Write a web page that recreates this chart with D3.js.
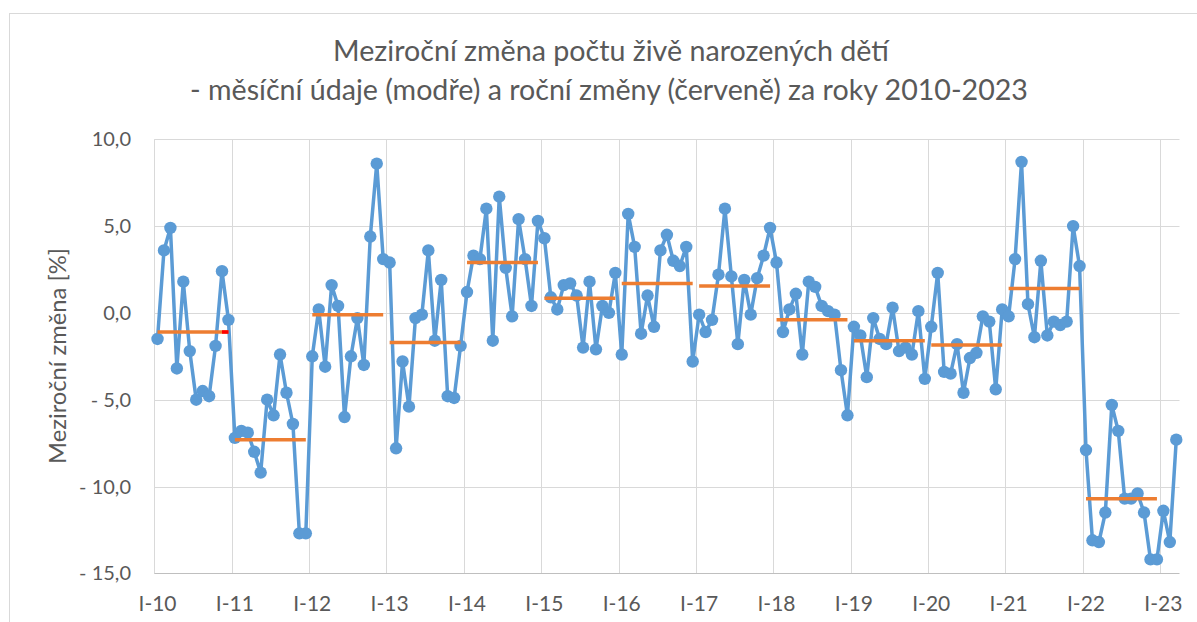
<!doctype html>
<html lang="cs">

<head>
    <meta charset="utf-8">
    <title>Meziroční změna počtu živě narozených dětí</title>
    <script src="https://cdn.jsdelivr.net/npm/d3@7"></script>
    <style>
        body { margin: 0; background: #fff; }
        text { font-family: Lato, "Open Sans", sans-serif; fill: #595959; }
    </style>
</head>

<body>
    <script>
        // year labels on the category axis (January of each year)
        var yearLabels = ["I-10", "I-11", "I-12", "I-13", "I-14", "I-15", "I-16",
                          "I-17", "I-18", "I-19", "I-20", "I-21", "I-22", "I-23"];

        // monthly year-on-year change [%], Jan 2010 .. Mar 2023 (one row per year)
        var monthlyChange = [
            -1.5, 3.6, 4.9, -3.2, 1.8, -2.2, -5.0, -4.5, -4.8, -1.9, 2.4, -0.4,
            -7.2, -6.8, -6.9, -8.0, -9.2, -5.0, -5.9, -2.4, -4.6, -6.4, -12.7, -12.7,
            -2.5, 0.2, -3.1, 1.6, 0.4, -6.0, -2.5, -0.3, -3.0, 4.4, 8.6, 3.1,
            2.9, -7.8, -2.8, -5.4, -0.3, -0.1, 3.6, -1.6, 1.9, -4.8, -4.9, -1.9,
            1.2, 3.3, 3.1, 6.0, -1.6, 6.7, 2.6, -0.2, 5.4, 3.1, 0.4, 5.3,
            4.3, 0.9, 0.2, 1.6, 1.7, 1.0, -2.0, 1.8, -2.1, 0.4, 0.0, 2.3,
            -2.4, 5.7, 3.8, -1.2, 1.0, -0.8, 3.6, 4.5, 3.0, 2.7, 3.8, -2.8,
            -0.1, -1.1, -0.4, 2.2, 6.0, 2.1, -1.8, 1.9, -0.1, 2.0, 3.3, 4.9,
            2.9, -1.1, 0.2, 1.1, -2.4, 1.8, 1.5, 0.4, 0.1, -0.1, -3.3, -5.9,
            -0.8, -1.3, -3.7, -0.3, -1.5, -1.8, 0.3, -2.2, -2.0, -2.4, 0.1, -3.8,
            -0.8, 2.3, -3.4, -3.5, -1.8, -4.6, -2.6, -2.3, -0.2, -0.5, -4.4, 0.2,
            -0.2, 3.1, 8.7, 0.5, -1.4, 3.0, -1.3, -0.5, -0.7, -0.5, 5.0, 2.7,
            -7.9, -13.1, -13.2, -11.5, -5.3, -6.8, -10.7, -10.7, -10.4, -11.5, -14.2, -14.2,
            -11.4, -13.2, -7.3
        ];

        // annual change [%], 2010 .. 2022
        var annualChange = [-1.1, -7.3, -0.1, -1.7, 2.9, 0.85, 1.7, 1.55, -0.4, -1.6, -1.85, 1.4, -10.7];

        var yTicks = [10, 5, 0, -5, -10, -15];

        var width = 1197, height = 622;
        var plotLeft = 154.3, plotRight = 1179.5, plotTop = 139.3, plotBottom = 573.3;

        var svg = d3.select("body")
            .append("svg")
            .attr("width", width)
            .attr("height", height);

        // outer chart border
        svg.append("rect")
            .attr("x", 9.5).attr("y", 13.5)
            .attr("width", width + 20).attr("height", height + 20)
            .attr("fill", "none")
            .attr("stroke", "#d9d9d9");

        var x = d3.scaleBand()
            .domain(d3.range(monthlyChange.length))
            .range([plotLeft, plotRight]);
        var cx = function(i) { return x(i) + x.bandwidth() / 2; };

        var y = d3.scaleLinear()
            .domain([-15, 10])
            .range([plotBottom, plotTop]);

        // horizontal gridlines
        svg.selectAll("line.hgrid")
           .data(yTicks.filter(function(d) { return d > -15; }))
           .enter()
           .append("line")
           .attr("x1", plotLeft).attr("x2", plotRight)
           .attr("y1", function(d) { return Math.round(y(d)) + 0.5; })
           .attr("y2", function(d) { return Math.round(y(d)) + 0.5; })
           .attr("stroke", "#d9d9d9");

        // vertical gridlines at the start of each year
        svg.selectAll("line.vgrid")
           .data(yearLabels)
           .enter()
           .append("line")
           .attr("x1", function(d, i) { return Math.round(x(i * 12)) + 0.5; })
           .attr("x2", function(d, i) { return Math.round(x(i * 12)) + 0.5; })
           .attr("y1", plotTop).attr("y2", plotBottom)
           .attr("stroke", "#d9d9d9");

        // bottom axis line
        svg.append("line")
           .attr("x1", plotLeft).attr("x2", plotRight)
           .attr("y1", Math.round(plotBottom) + 0.5).attr("y2", Math.round(plotBottom) + 0.5)
           .attr("stroke", "#bfbfbf");

        // y tick labels, Czech format with spaced minus
        var fmt = function(d) {
            var s = Math.abs(d).toFixed(1).replace(".", ",");
            return d < 0 ? "- " + s : s;
        };
        svg.selectAll("text.ytick")
           .data(yTicks)
           .enter()
           .append("text")
           .text(fmt)
           .attr("x", 131)
           .attr("y", function(d) { return y(d) + 7; })
           .attr("text-anchor", "end")
           .attr("font-size", "20px");

        // x tick labels, centred on each January
        svg.selectAll("text.xtick")
           .data(yearLabels)
           .enter()
           .append("text")
           .text(function(d) { return d; })
           .attr("x", function(d, i) { return cx(i * 12); })
           .attr("y", 611)
           .attr("text-anchor", "middle")
           .attr("font-size", "21px");

        // blue monthly line with markers
        var line = d3.line()
            .x(function(d, i) { return cx(i); })
            .y(function(d) { return y(d); });

        svg.append("path")
           .datum(monthlyChange)
           .attr("d", line)
           .attr("fill", "none")
           .attr("stroke", "#5b9bd5")
           .attr("stroke-width", 3.5)
           .attr("stroke-linejoin", "round");

        svg.selectAll("circle")
           .data(monthlyChange)
           .enter()
           .append("circle")
           .attr("cx", function(d, i) { return cx(i); })
           .attr("cy", function(d) { return y(d); })
           .attr("r", 6.2)
           .attr("fill", "#5b9bd5");

        // orange annual change, Jan..Dec of each year
        svg.selectAll("line.annual")
           .data(annualChange)
           .enter()
           .append("line")
           .attr("x1", function(d, i) { return cx(i * 12); })
           .attr("x2", function(d, i) { return cx(i * 12 + 11); })
           .attr("y1", function(d) { return y(d); })
           .attr("y2", function(d) { return y(d); })
           .attr("stroke", "#ed7d31")
           .attr("stroke-width", 3.5);

        // small red piece at the end of the 2010 line
        svg.append("line")
           .attr("x1", cx(10)).attr("x2", cx(11))
           .attr("y1", y(annualChange[0])).attr("y2", y(annualChange[0]))
           .attr("stroke", "#ff0000")
           .attr("stroke-width", 3.5);

        // fit a text element to a target width by adjusting its font size
        function fit(sel, target) {
            var w = sel.node().getComputedTextLength();
            var fs = parseFloat(sel.attr("font-size"));
            sel.attr("font-size", (fs * target / w).toFixed(2) + "px");
        }

        var t1 = svg.append("text")
            .text("Meziroční změna počtu živě narozených dětí")
            .attr("x", 611).attr("y", 61)
            .attr("text-anchor", "middle")
            .attr("font-size", "26px");
        fit(t1, 556);

        var t2 = svg.append("text")
            .text("- měsíční údaje (modře) a roční změny (červeně) za roky 2010-2023")
            .attr("x", 609).attr("y", 100)
            .attr("text-anchor", "middle")
            .attr("font-size", "26px");
        fit(t2, 838);

        var yl = svg.append("text")
            .text("Meziroční změna [%]")
            .attr("transform", "translate(66,356) rotate(-90)")
            .attr("text-anchor", "middle")
            .attr("font-size", "20px");
        fit(yl, 216);
    </script>
</body>

</html>
